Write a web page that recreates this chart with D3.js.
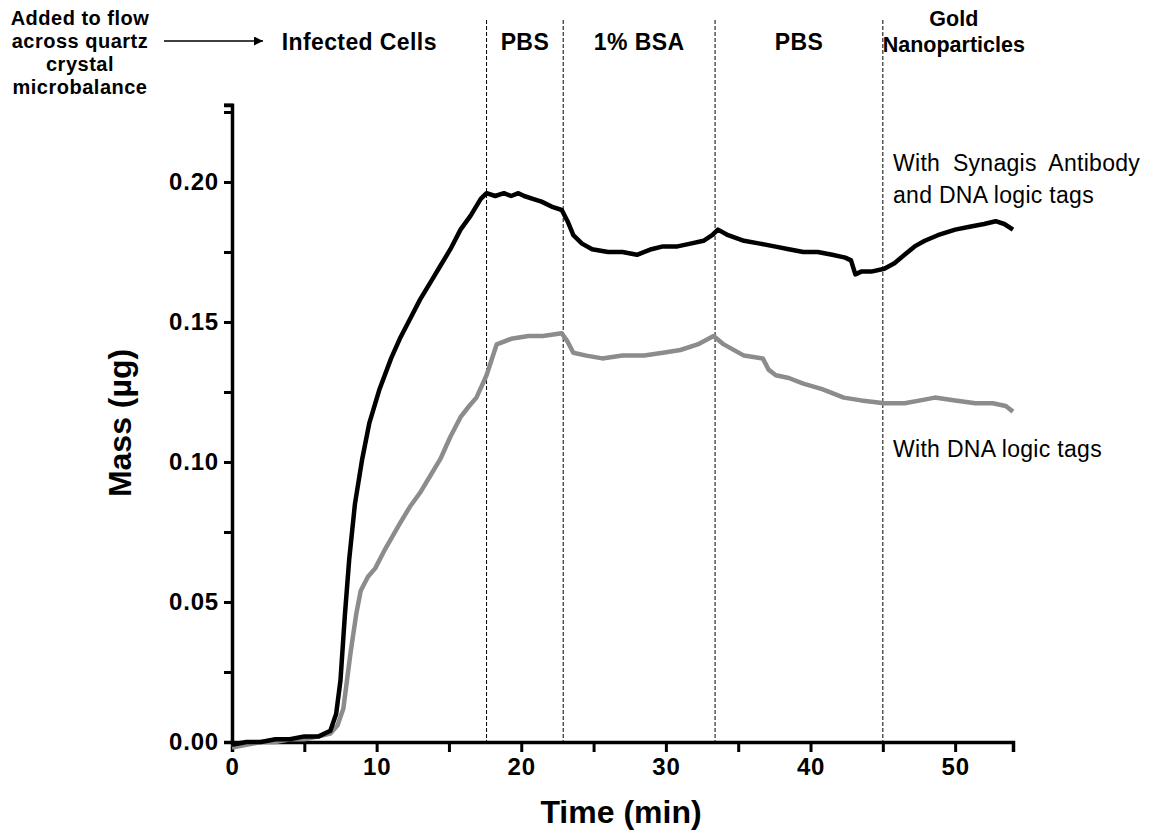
<!DOCTYPE html>
<html>
<head>
<meta charset="utf-8">
<script src="https://cdn.jsdelivr.net/npm/d3@7"></script>
<style>
  body { margin: 0; background: #fff; }
  svg { display: block; }
  text { font-family: "Liberation Sans", Arial, sans-serif; fill: #000; }
</style>
</head>
<body>
<svg id="chart" width="1155" height="837"></svg>
<script>
// data (time in min, mass in µg)
const timeSynagis = [0, 1, 2, 3, 4, 5, 6, 6.8, 7.2, 7.5, 7.8, 8.1, 8.5, 9, 9.5, 10.2, 11, 11.6, 12.3, 13, 13.7, 14.4, 15.1, 15.8, 16.5, 17.2, 17.6, 18.2, 18.8, 19.3, 19.8, 20.2, 20.8, 21.4, 22.2, 22.8, 23.2, 23.6, 24.2, 24.9, 26, 27, 28, 29, 29.8, 30.8, 31.7, 32.6, 33.2, 33.6, 34.3, 35.4, 36.5, 37.5, 38.5, 39.5, 40.5, 41.5, 42.4, 42.8, 43.1, 43.5, 44.2, 45.1, 45.8, 46.5, 47.2, 47.9, 48.8, 50, 51, 52, 52.8, 53.4, 54];
const massSynagis = [-0.001, 0.000, 0.000, 0.001, 0.001, 0.002, 0.002, 0.004, 0.010, 0.022, 0.045, 0.065, 0.085, 0.101, 0.114, 0.126, 0.137, 0.144, 0.151, 0.158, 0.164, 0.170, 0.176, 0.183, 0.188, 0.194, 0.196, 0.195, 0.196, 0.195, 0.196, 0.195, 0.194, 0.193, 0.191, 0.190, 0.186, 0.181, 0.178, 0.176, 0.175, 0.175, 0.174, 0.176, 0.177, 0.177, 0.178, 0.179, 0.181, 0.183, 0.181, 0.179, 0.178, 0.177, 0.176, 0.175, 0.175, 0.174, 0.173, 0.172, 0.167, 0.168, 0.168, 0.169, 0.171, 0.174, 0.177, 0.179, 0.181, 0.183, 0.184, 0.185, 0.186, 0.185, 0.183];

const timeDna = [0, 1, 2, 3, 4, 5, 6, 6.8, 7.3, 7.7, 8.2, 8.6, 8.9, 9.4, 9.9, 10.6, 11.6, 12.3, 13, 13.7, 14.4, 15.1, 15.8, 16.4, 16.9, 17.6, 18.3, 19.3, 20.5, 21.5, 22.8, 23.2, 23.6, 24.5, 25.6, 27, 28.5, 29.8, 31, 32.2, 33.3, 34, 35.4, 36.7, 37.1, 37.6, 38.5, 39.5, 40.8, 42.3, 43.5, 45.1, 46.5, 47.6, 48.6, 50, 51.4, 52.6, 53.5, 54];
const massDna = [-0.002, -0.001, 0.000, 0.000, 0.001, 0.001, 0.002, 0.003, 0.006, 0.012, 0.032, 0.046, 0.054, 0.059, 0.062, 0.069, 0.078, 0.084, 0.089, 0.095, 0.101, 0.109, 0.116, 0.120, 0.123, 0.131, 0.142, 0.144, 0.145, 0.145, 0.146, 0.143, 0.139, 0.138, 0.137, 0.138, 0.138, 0.139, 0.140, 0.142, 0.145, 0.142, 0.138, 0.137, 0.133, 0.131, 0.130, 0.128, 0.126, 0.123, 0.122, 0.121, 0.121, 0.122, 0.123, 0.122, 0.121, 0.121, 0.120, 0.118];

const phaseBounds = [17.6, 22.9, 33.4, 45.0];
const phaseStarts = [0, 17.6, 22.9, 33.4, 45.0];
const phaseEnds = [17.6, 22.9, 33.4, 45.0, 54];
const phaseLabels = [["Infected Cells"], ["PBS"], ["1% BSA"], ["PBS"], ["Gold", "Nanoparticles"]];
const flowNote = ["Added to flow", "across quartz", "crystal", "microbalance"];

const xTicks = d3.range(0, 51, 5);
const yTicks = d3.range(0, 0.2251, 0.025);

const svg = d3.select('#chart');
svg.append('rect').attr('width', 1155).attr('height', 837).attr('fill', '#fff');

const x = d3.scaleLinear().domain([0, 54]).range([232, 1013]);
const y = d3.scaleLinear().domain([0, 0.2275]).range([742, 105]);

// dashed phase separators
svg.selectAll('.phase-line')
  .data(phaseBounds)
  .enter()
  .append('line')
  .attr('x1', d => x(d)).attr('x2', d => x(d))
  .attr('y1', 20).attr('y2', y(0))
  .attr('stroke', '#000')
  .attr('stroke-width', 1)
  .attr('stroke-dasharray', '4,2');

// phase names
phaseLabels.forEach((lines, i) => {
  const two = lines.length > 1;
  const cx = two ? x(phaseStarts[i]) + 71 : x((phaseStarts[i] + phaseEnds[i]) / 2);
  const t = svg.append('text')
    .attr('text-anchor', 'middle')
    .attr('font-weight', 'bold')
    .attr('font-size', two ? 21.5 : 23)
    .attr('letter-spacing', two ? 0 : 0.4);
  const y0 = two ? 26 : 50;
  lines.forEach((s, j) => {
    t.append('tspan').attr('x', cx).attr('y', y0 + j * 26).text(s);
  });
});

// "added to flow" note + arrow
const note = svg.append('text')
  .attr('text-anchor', 'middle')
  .attr('font-weight', 'bold')
  .attr('font-size', 20)
  .attr('letter-spacing', 0.5);
flowNote.forEach((s, j) => {
  note.append('tspan').attr('x', 80).attr('y', 25 + j * 23).text(s);
});
svg.append('defs').append('marker')
  .attr('id', 'arrow')
  .attr('viewBox', '0 0 10 10')
  .attr('refX', 10).attr('refY', 5)
  .attr('markerWidth', 12).attr('markerHeight', 9)
  .attr('markerUnits', 'userSpaceOnUse')
  .attr('orient', 'auto')
  .append('path').attr('d', 'M0,0L10,5L0,10Z').attr('fill', '#000');
svg.append('line')
  .attr('x1', 164).attr('x2', 263)
  .attr('y1', 41).attr('y2', 41)
  .attr('stroke', '#000').attr('stroke-width', 1.3)
  .attr('marker-end', 'url(#arrow)');

// axes
const yAxis = d3.axisLeft(y)
  .tickValues(yTicks)
  .tickSizeOuter(0)
  .tickSize(8)
  .tickPadding(5)
  .tickFormat(d => (Math.round(d * 1000) % 50 === 0 ? d3.format('.2f')(d) : ''));
const gy = svg.append('g').attr('transform', 'translate(232,0)').call(yAxis);

const xAxis = d3.axisBottom(x)
  .tickValues(xTicks)
  .tickSizeOuter(0)
  .tickSize(10)
  .tickPadding(6)
  .tickFormat(d => (d % 10 === 0 ? d : ''));
const gx = svg.append('g').attr('transform', 'translate(0,742)').call(xAxis);

[gx, gy].forEach(g => {
  g.select('.domain').attr('stroke', '#000').attr('stroke-width', 3.5);
  g.selectAll('.tick line').attr('stroke', '#000').attr('stroke-width', 3);
  g.selectAll('.tick text')
    .attr('font-family', '"Liberation Sans", Arial, sans-serif')
    .attr('font-weight', 'bold')
    .attr('font-size', 24)
    .attr('letter-spacing', 0.8)
    .attr('fill', '#000');
});
// top cap tick of the y axis
svg.append('line')
  .attr('x1', 224).attr('x2', 233.5)
  .attr('y1', y(0.2275)).attr('y2', y(0.2275))
  .attr('stroke', '#000').attr('stroke-width', 3);

// series
const line = d3.line()
  .x(d => x(d[0]))
  .y(d => y(d[1]));

svg.append('path')
  .datum(d3.zip(timeDna, massDna))
  .attr('d', line)
  .attr('fill', 'none')
  .attr('stroke', '#8c8c8c')
  .attr('stroke-width', 4.5)
  .attr('stroke-linejoin', 'round');

svg.append('path')
  .datum(d3.zip(timeSynagis, massSynagis))
  .attr('d', line)
  .attr('fill', 'none')
  .attr('stroke', '#000')
  .attr('stroke-width', 4.5)
  .attr('stroke-linejoin', 'round');

// series notes
const n1 = svg.append('text').attr('font-size', 23).attr('letter-spacing', 0.3);
n1.append('tspan').attr('x', 893).attr('y', 171).attr('word-spacing', 6).text('With Synagis Antibody');
n1.append('tspan').attr('x', 893).attr('y', 203).text('and DNA logic tags');
svg.append('text').attr('font-size', 23).attr('letter-spacing', 0.3)
  .attr('x', 893).attr('y', 457).text('With DNA logic tags');

// axis titles
svg.append('text')
  .attr('x', 621).attr('y', 823)
  .attr('text-anchor', 'middle')
  .attr('font-weight', 'bold')
  .attr('font-size', 32)
  .text('Time (min)');
svg.append('text')
  .attr('transform', 'translate(131,423) rotate(-90)')
  .attr('text-anchor', 'middle')
  .attr('font-weight', 'bold')
  .attr('font-size', 32)
  .text('Mass (µg)');
</script>
</body>
</html>
